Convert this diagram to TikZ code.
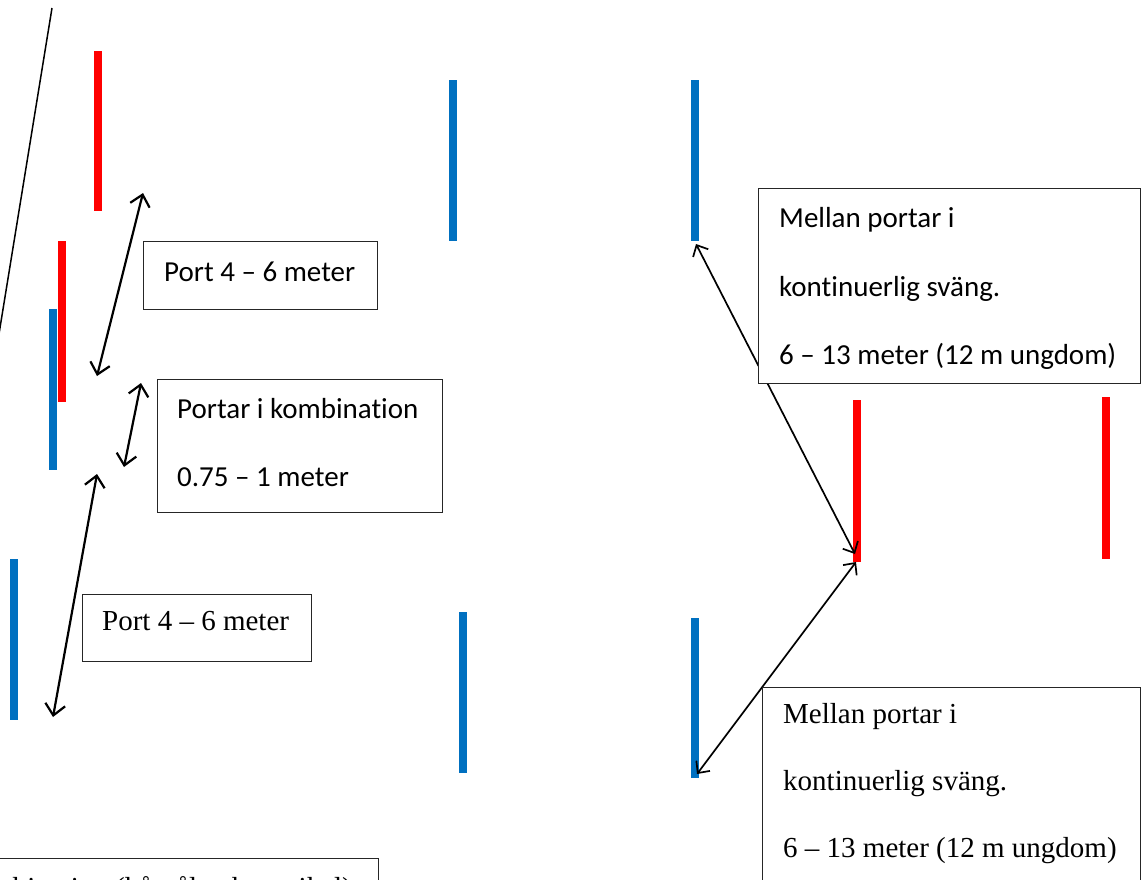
\documentclass[tikz,border=0pt]{standalone}
\usepackage{fontspec}
\setmainfont{Liberation Serif}
\newfontfamily\calibri[Ligatures=NoCommon]{Carlito}
\usetikzlibrary{arrows.meta}
\definecolor{gatered}{HTML}{FF0000}
\definecolor{gateblue}{HTML}{0070C0}
\begin{document}
\begin{tikzpicture}[x=1pt,y=-1pt,
  pole/.style={line width=8pt},
  redpole/.style={pole, draw=gatered},
  bluepole/.style={pole, draw=gateblue},
  gaparrow/.style={{Straight Barb[length=11pt,width=20pt]}-{Straight Barb[length=11pt,width=20pt]}, line width=2.2pt},
  turnarrow/.style={{Straight Barb[length=9pt,width=17pt]}-{Straight Barb[length=9pt,width=17pt]}, line width=1.7pt},
  notebox/.style={draw=black!85, fill=white, line width=1pt, inner sep=0pt, anchor=north west},
  sanstext/.style={inner sep=0pt, anchor=base west, font=\calibri\fontsize{29}{35}\selectfont},
  seriftext/.style={inner sep=0pt, anchor=base west, font=\fontsize{29}{35}\selectfont}]
\useasboundingbox (0,0) rectangle (1148,879);

% course edge line
\coordinate (edgeTop) at (52,8);
\coordinate (edgeBot) at (-2,340);
\draw[line width=1.5pt] (edgeTop) -- (edgeBot);

% gate poles
\coordinate (r1t) at (98,51);   \coordinate (r1b) at (98,211);
\coordinate (r2t) at (62,241);  \coordinate (r2b) at (62,402);
\coordinate (b1t) at (53,309);  \coordinate (b1b) at (53,470);
\coordinate (b2t) at (14,559);  \coordinate (b2b) at (14,720);
\coordinate (b3t) at (453,80);  \coordinate (b3b) at (453,241);
\coordinate (b4t) at (695,80);  \coordinate (b4b) at (695,241);
\coordinate (b5t) at (463,612); \coordinate (b5b) at (463,773);
\coordinate (b6t) at (695,618); \coordinate (b6b) at (695,778);
\coordinate (r3t) at (857,400); \coordinate (r3b) at (857,562);
\coordinate (r4t) at (1106,397);\coordinate (r4b) at (1106,559);
\draw[redpole]  (r1t) -- (r1b);
\draw[redpole]  (r2t) -- (r2b);
\draw[bluepole] (b1t) -- (b1b);
\draw[bluepole] (b2t) -- (b2b);
\draw[bluepole] (b3t) -- (b3b);
\draw[bluepole] (b4t) -- (b4b);
\draw[bluepole] (b5t) -- (b5b);
\draw[bluepole] (b6t) -- (b6b);
\draw[redpole]  (r3t) -- (r3b);
\draw[redpole]  (r4t) -- (r4b);

% distance arrows
\coordinate (a1s) at (143,193); \coordinate (a1e) at (97,376);
\coordinate (a2s) at (141,383); \coordinate (a2e) at (124,467);
\coordinate (a3s) at (97,474);  \coordinate (a3e) at (53,717);
\coordinate (a4s) at (696,244); \coordinate (a4e) at (855,554);
\coordinate (a5s) at (856,562); \coordinate (a5e) at (697,774);
\draw[gaparrow] (a1s) -- (a1e);
\draw[gaparrow] (a2s) -- (a2e);
\draw[gaparrow] (a3s) -- (a3e);
\draw[turnarrow] (a4s) -- (a4e);
\draw[turnarrow] (a5s) -- (a5e);

% note boxes
\node[notebox, minimum width=234pt, minimum height=68pt] (boxA) at (143,241) {};
\node[sanstext] (txtA) at (164,281) {Port 4 – 6 meter};

\node[notebox, minimum width=285pt, minimum height=133pt] (boxB) at (157,379) {};
\node[sanstext] (txtB1) at (177,418) {Portar i kombination};
\node[sanstext] (txtB2) at (177,486) {0.75 – 1 meter};

\node[notebox, minimum width=229pt, minimum height=67pt] (boxC) at (82,594) {};
\node[seriftext] (txtC) at (102,630) {Port 4 – 6 meter};

\node[notebox, minimum width=382pt, minimum height=195pt] (boxD) at (758,188) {};
\node[sanstext] (txtD1) at (779,227) {Mellan portar i};
\node[sanstext] (txtD2) at (779,296) {kontinuerlig sväng.};
\node[sanstext] (txtD3) at (779,364) {6 – 13 meter (12 m ungdom)};

\node[notebox, minimum width=378pt, minimum height=195pt] (boxE) at (762,687) {};
\node[seriftext] (txtE1) at (783,723) {Mellan portar i};
\node[seriftext] (txtE2) at (783,790) {kontinuerlig sväng.};
\node[seriftext] (txtE3) at (783,857) {6 – 13 meter (12 m ungdom)};

\node[notebox, minimum width=445pt, minimum height=67pt] (boxF) at (-67,858) {};
\node[seriftext, anchor=base east] (txtF) at (352,897) {Kombination (hårnål och vertikal)};
\end{tikzpicture}
\end{document}
